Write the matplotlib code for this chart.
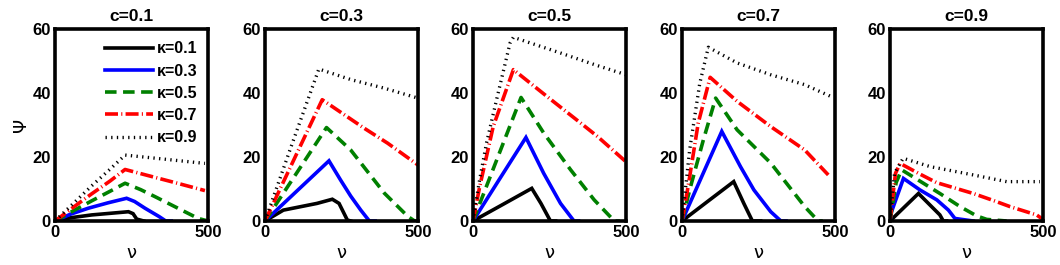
import matplotlib
matplotlib.use("Agg")
import matplotlib.pyplot as plt

plt.rcParams['font.family'] = ['Liberation Sans', 'DejaVu Sans']

c_values = [0.1, 0.3, 0.5, 0.7, 0.9]
kappa_labels = ['κ=0.1', 'κ=0.3', 'κ=0.5', 'κ=0.7', 'κ=0.9']
x_ticks = [0, 500]
y_ticks = [0, 20, 40, 60]

# c = 0.1
c1_nu = [
    [0, 50, 120, 180, 240, 255, 267, 290],
    [0, 50, 109, 174, 234, 260, 294, 340, 362, 380],
    [0, 60, 120, 180, 229, 280, 327, 414, 468, 500],
    [0, 60, 120, 180, 229, 300, 400, 490],
    [0, 60, 120, 180, 229, 300, 400, 490],
]
c1_psi = [
    [0, 1.0, 1.9, 2.4, 2.9, 2.3, 0.6, 0],
    [0, 2.1, 4.0, 5.7, 7.1, 6.1, 4.0, 1.4, 0, 0],
    [0, 3.2, 6.3, 9.3, 11.8, 9.8, 7.6, 3.4, 0.8, 0],
    [0, 4.3, 8.5, 12.5, 16.1, 14.3, 11.8, 9.5],
    [0, 5.5, 11.0, 16.2, 20.6, 19.9, 18.9, 18.0],
]

# c = 0.3
c2_nu = [
    [0, 60, 170, 220, 242, 269, 280],
    [0, 100, 209, 247, 280, 313, 341, 360],
    [0, 100, 201, 280, 390, 467, 489, 500],
    [0, 100, 187, 324, 401, 500],
    [0, 90, 176, 280, 390, 500],
]
c2_psi = [
    [0, 3.4, 5.5, 6.8, 5.5, 0.3, 0],
    [0, 9.0, 18.8, 12.8, 7.8, 3.4, 0, 0],
    [0, 14.5, 29.2, 22.2, 8.7, 1.4, 0, 0],
    [0, 20.3, 37.9, 29.0, 24.3, 17.5],
    [0, 24.5, 47.5, 44.2, 41.5, 38.4],
]

# c = 0.5
c3_nu = [
    [0, 100, 192, 222, 253, 270],
    [0, 90, 173, 231, 286, 330, 345],
    [0, 80, 157, 231, 319, 396, 462, 480],
    [0, 22, 66, 132, 242, 352, 407, 500],
    [0, 20, 44, 77, 121, 132, 286, 396, 500],
]
c3_psi = [
    [0, 5.3, 10.2, 5.5, 0, 0],
    [0, 13.6, 26.1, 14.9, 5.5, 0, 0],
    [0, 19.7, 38.6, 27.5, 16.0, 6.6, 0, 0],
    [0, 10.8, 29.5, 47.3, 38.9, 30.6, 26.4, 18.5],
    [0, 12.0, 24.3, 37.9, 55.6, 57.4, 52.5, 48.9, 45.7],
]

# c = 0.7
c4_nu = [
    [0, 85, 169, 202, 230, 257],
    [0, 65, 130, 191, 235, 290, 323, 340],
    [0, 25, 70, 110, 180, 290, 401, 445, 460],
    [0, 20, 53, 92, 180, 290, 401, 478],
    [0, 25, 58, 86, 180, 290, 401, 487],
]
c4_psi = [
    [0, 6.2, 12.3, 5.5, 0, 0],
    [0, 14.0, 28.0, 17.0, 9.7, 2.9, 0, 0],
    [0, 9.7, 25.4, 38.4, 28.5, 18.1, 4.5, 0, 0],
    [0, 10.8, 30.6, 44.9, 37.4, 29.5, 22.2, 14.4],
    [0, 22.2, 43.0, 54.3, 49.4, 45.7, 42.6, 38.9],
]

# c = 0.9
c5_nu = [
    [0, 93, 163, 174, 185],
    [0, 5, 44, 98, 153, 191, 212, 272],
    [0, 20, 38, 109, 163, 229, 283, 316, 381],
    [0, 7, 18, 33, 93, 152, 272, 338, 392, 479, 500],
    [0, 15, 43, 131, 272, 381, 490],
]
c5_psi = [
    [0, 8.6, 1.9, 0, 0],
    [0, 2.9, 13.3, 9.7, 6.6, 3.4, 0.8, 0],
    [0, 12.0, 16.0, 11.8, 8.6, 4.5, 1.6, 0.5, 0],
    [0, 6.0, 14.9, 18.0, 14.9, 12.0, 8.6, 6.4, 4.5, 1.9, 0.5],
    [0, 15.0, 19.6, 17.0, 14.4, 12.3, 12.3],
]

all_nu = [c1_nu, c2_nu, c3_nu, c4_nu, c5_nu]
all_psi = [c1_psi, c2_psi, c3_psi, c4_psi, c5_psi]

colors = ['black', '#0000ff', '#008000', '#ff0000', 'black']
styles = ['-', '-', (0, (3.2, 1.8)), (0, (3.6, 0.9, 0.3, 0.9)), (0, (0.4, 1.3))]
widths = [2.6, 2.6, 2.6, 2.6, 2.4]

W, H = 1060, 265
fig = plt.figure(figsize=(W / 100, H / 100), dpi=100)
lefts = [55, 265, 473, 682, 890]
for i, c in enumerate(c_values):
    ax = fig.add_axes([lefts[i] / W, 44 / H, 153 / W, 192 / H])
    for k in range(5):
        ax.plot(all_nu[i][k], all_psi[i][k], color=colors[k], linestyle=styles[k],
                linewidth=widths[k], label=kappa_labels[k],
                solid_joinstyle='miter', dash_capstyle='butt')
    ax.set_xlim(0, 500)
    ax.set_ylim(0, 60)
    ax.set_xticks(x_ticks)
    ax.set_yticks(y_ticks)
    ax.tick_params(length=0, labelsize=12, pad=3)
    for lab in ax.get_xticklabels() + ax.get_yticklabels():
        lab.set_fontweight('bold')
    for s in ax.spines.values():
        s.set_linewidth(2.6)
    ax.set_title(f'c={c}', fontsize=12.5, fontweight='bold', pad=6)
    ax.set_xlabel('ν', fontsize=13, labelpad=3, family=['DejaVu Sans'])
    if i == 0:
        ax.set_ylabel('Ψ', fontsize=13, labelpad=2, family=['DejaVu Sans'])
        leg = ax.legend(loc='upper right', bbox_to_anchor=(0.93, 0.935), frameon=False,
                        fontsize=11.5, handlelength=3.0, handletextpad=0.25,
                        labelspacing=0.45, borderpad=0, borderaxespad=0)
        for t in leg.get_texts():
            t.set_fontweight('bold')

fig.savefig('out.png', dpi=100)
